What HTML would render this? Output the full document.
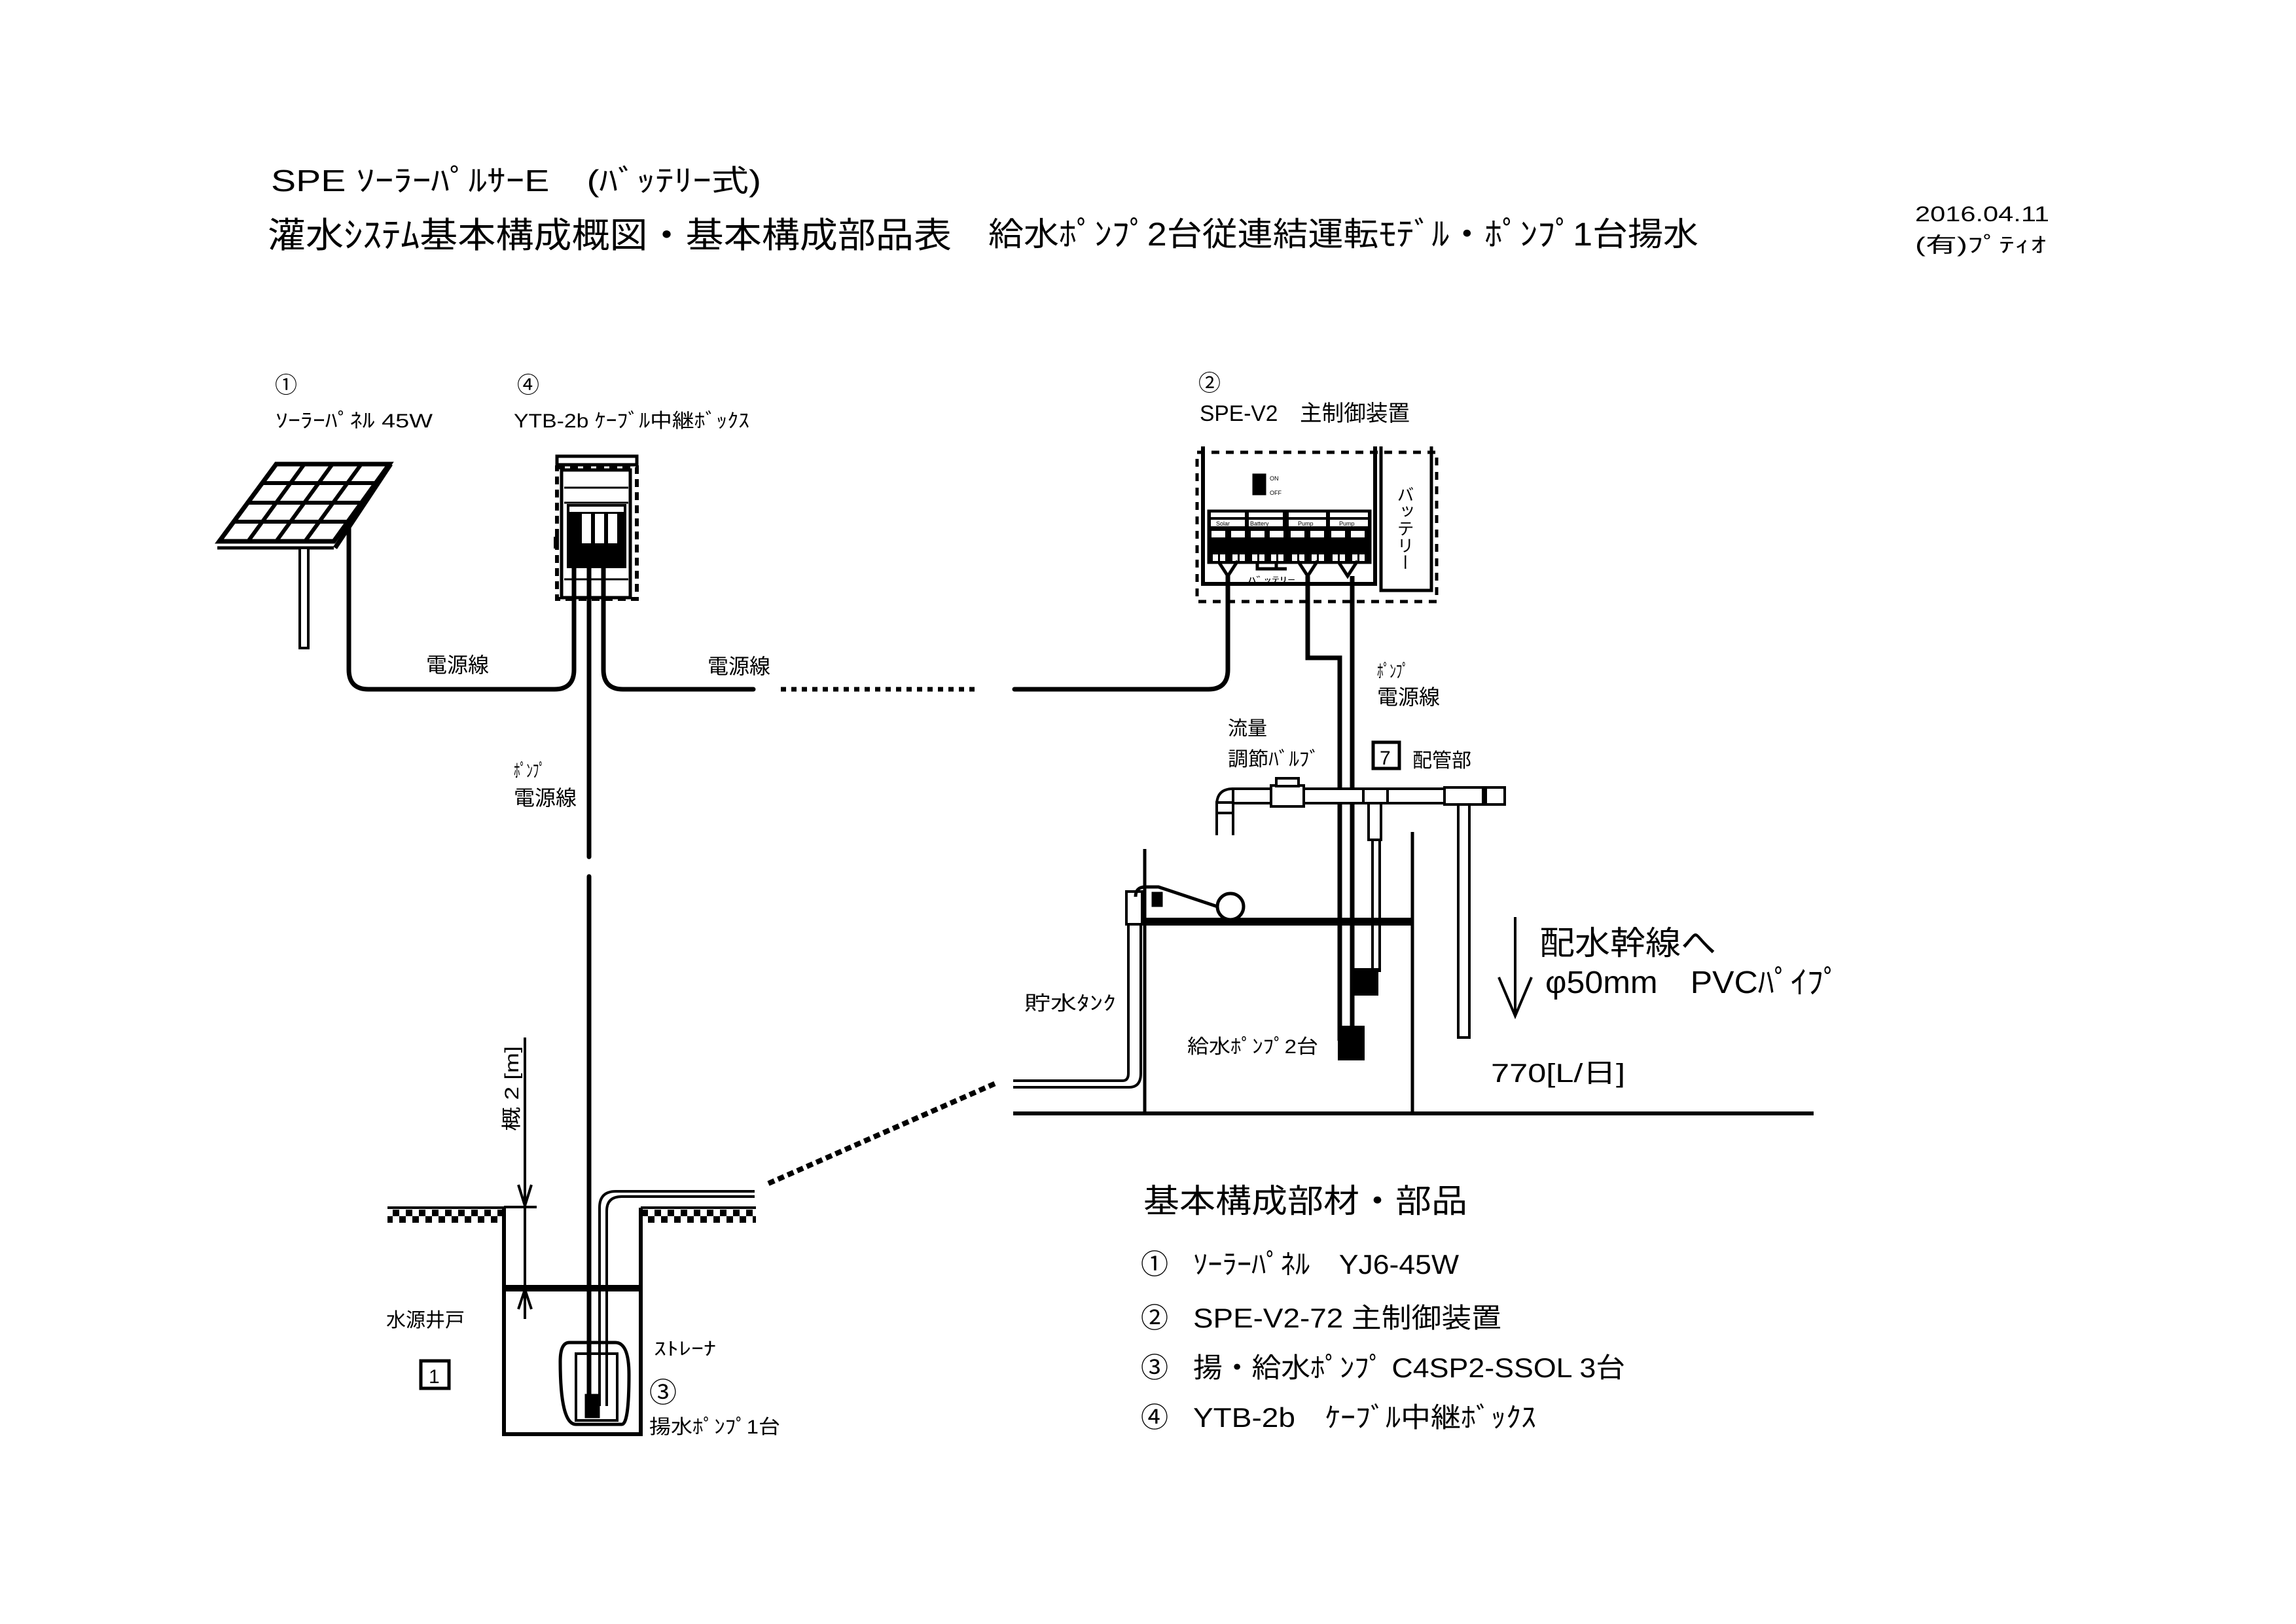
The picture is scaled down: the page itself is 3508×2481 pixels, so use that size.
<!DOCTYPE html>
<html><head><meta charset="utf-8"><style>
html,body{margin:0;padding:0;background:#fff}
svg{display:block}
text{font-family:"Liberation Sans","Noto Sans CJK JP",sans-serif;fill:#000}
</style></head><body>
<svg width="3508" height="2481" viewBox="0 0 3508 2481" xmlns="http://www.w3.org/2000/svg">
<rect width="3508" height="2481" fill="#fff"/>
<text x="414" y="292" font-size="46" textLength="749" lengthAdjust="spacingAndGlyphs">SPE ｿｰﾗｰﾊﾟﾙｻｰE　(ﾊﾞｯﾃﾘｰ式)</text>
<text x="409" y="378" font-size="54" textLength="1045" lengthAdjust="spacingAndGlyphs">灌水ｼｽﾃﾑ基本構成概図・基本構成部品表</text>
<text x="1510" y="375" font-size="50" textLength="1085" lengthAdjust="spacingAndGlyphs">給水ﾎﾟﾝﾌﾟ2台従連結運転ﾓﾃﾞﾙ・ﾎﾟﾝﾌﾟ1台揚水</text>
<text x="2926" y="338" font-size="32" textLength="205" lengthAdjust="spacingAndGlyphs">2016.04.11</text>
<text x="2926" y="385" font-size="32" textLength="200" lengthAdjust="spacingAndGlyphs">(有)ﾌﾟﾃｨｵ</text>

<text x="420" y="600" font-size="34">①</text>
<text x="421" y="653" font-size="30" textLength="240" lengthAdjust="spacingAndGlyphs">ｿｰﾗｰﾊﾟﾈﾙ 45W</text>
<text x="790" y="600" font-size="34">④</text>
<text x="785" y="653" font-size="30" textLength="360" lengthAdjust="spacingAndGlyphs">YTB-2b ｹｰﾌﾞﾙ中継ﾎﾞｯｸｽ</text>
<text x="1831" y="597" font-size="34">②</text>
<text x="1833" y="643" font-size="34" textLength="321" lengthAdjust="spacingAndGlyphs">SPE-V2　主制御装置</text>

<g stroke="#000" fill="none">
<polygon points="422,709 595,709 510,827 335,827" stroke-width="7" fill="#fff"/>
<line x1="400" y1="738" x2="574" y2="738" stroke-width="6"/>
<line x1="378" y1="768" x2="552" y2="768" stroke-width="6"/>
<line x1="357" y1="797" x2="531" y2="797" stroke-width="6"/>
<line x1="465" y1="709" x2="379" y2="827" stroke-width="6"/>
<line x1="508" y1="709" x2="422" y2="827" stroke-width="6"/>
<line x1="552" y1="709" x2="466" y2="827" stroke-width="6"/>
<line x1="332" y1="837" x2="510" y2="837" stroke-width="5"/>
<line x1="597" y1="709" x2="512" y2="837" stroke-width="7"/>
<rect x="458" y="837" width="13" height="153" stroke-width="4" fill="#fff"/>
</g>

<g stroke="#000" fill="none">
<rect x="851" y="697" width="122" height="13" stroke-width="5" fill="#fff"/>
<rect x="851" y="714" width="122" height="201" stroke-width="6" stroke-dasharray="12 8"/>
<rect x="858" y="718" width="105" height="195" stroke-width="5"/>
<line x1="862" y1="745" x2="960" y2="745" stroke-width="3"/>
<line x1="862" y1="768" x2="960" y2="768" stroke-width="3"/>
<rect x="866" y="770" width="91" height="80" fill="#000" stroke="none"/>
<rect x="870" y="774" width="83" height="8" fill="#fff" stroke="none"/>
<rect x="889" y="785" width="14" height="45" fill="#fff" stroke="none"/>
<rect x="909" y="785" width="14" height="45" fill="#fff" stroke="none"/>
<rect x="929" y="785" width="14" height="45" fill="#fff" stroke="none"/>
<rect x="866" y="842" width="91" height="26" fill="#000" stroke="none"/>
<rect x="846" y="820" width="8" height="18" fill="#000" stroke="none"/>
<line x1="862" y1="885" x2="960" y2="885" stroke-width="3"/>
</g>

<g stroke="#000" fill="none" stroke-width="7" stroke-linecap="round">
<path d="M533,801 V1023 Q533,1053 563,1053 H847 Q877,1053 877,1023 V866"/>
<path d="M922,866 V1023 Q922,1053 952,1053 H1151"/>
<line x1="1193" y1="1053" x2="1494" y2="1053" stroke-dasharray="8 8" stroke-linecap="butt"/>
<path d="M1550,1053 H1846 Q1876,1053 1876,1023 V880"/>
<path d="M900,866 V1309"/>
<path d="M900,1339 V2148"/>
</g>
<text x="651" y="1027" font-size="32">電源線</text>
<text x="1081" y="1029" font-size="32">電源線</text>
<text x="785" y="1187" font-size="28" textLength="48" lengthAdjust="spacingAndGlyphs">ﾎﾟﾝﾌﾟ</text>
<text x="785" y="1230" font-size="32">電源線</text>

<g stroke="#000" fill="none">
<rect x="1829" y="691" width="366" height="228" stroke-width="5" stroke-dasharray="12 10"/>
<path d="M1838,682 V892 H2101 V682" stroke-width="6"/>
<path d="M2110,682 V902 H2187 V682" stroke-width="5"/>
<rect x="1914" y="724" width="20" height="32" fill="#000"/>
<rect x="1845" y="779" width="250" height="82" fill="#000"/>
</g>
<text x="1940" y="734" font-size="9">ON</text>
<text x="1940" y="756" font-size="9">OFF</text>
<g fill="#fff">
<rect x="1850" y="783" width="52" height="7"/><rect x="1908" y="783" width="52" height="7"/><rect x="1969" y="783" width="57" height="7"/><rect x="2032" y="783" width="58" height="7"/>
<rect x="1850" y="794" width="52" height="10"/><rect x="1908" y="794" width="52" height="10"/><rect x="1969" y="794" width="57" height="10"/><rect x="2032" y="794" width="58" height="10"/>
<rect x="1851" y="811" width="21" height="10"/><rect x="1881" y="811" width="21" height="10"/><rect x="1911" y="811" width="21" height="10"/><rect x="1940" y="811" width="21" height="10"/><rect x="1972" y="811" width="21" height="10"/><rect x="2002" y="811" width="21" height="10"/><rect x="2034" y="811" width="21" height="10"/><rect x="2064" y="811" width="21" height="10"/>
<rect x="1853" y="847" width="8" height="10"/><rect x="1864" y="847" width="8" height="10"/><rect x="1883" y="847" width="8" height="10"/><rect x="1894" y="847" width="8" height="10"/><rect x="1913" y="847" width="8" height="10"/><rect x="1924" y="847" width="8" height="10"/><rect x="1942" y="847" width="8" height="10"/><rect x="1953" y="847" width="8" height="10"/><rect x="1974" y="847" width="8" height="10"/><rect x="1985" y="847" width="8" height="10"/><rect x="2004" y="847" width="8" height="10"/><rect x="2015" y="847" width="8" height="10"/><rect x="2036" y="847" width="8" height="10"/><rect x="2047" y="847" width="8" height="10"/><rect x="2066" y="847" width="8" height="10"/><rect x="2077" y="847" width="8" height="10"/>
</g>
<g font-size="9"><text x="1858" y="803">Solar</text><text x="1910" y="803">Battery</text><text x="1983" y="803">Pump</text><text x="2046" y="803">Pump</text></g>
<g stroke="#000" fill="none" stroke-width="5">
<path d="M1861,857 L1876,880 L1891,857"/><path d="M1983,857 L1998,880 L2013,857"/><path d="M2044,857 L2059,880 L2074,857"/>
<path d="M1921,857 V869 H1966 M1950,857 V869"/>
</g>
<text x="1907" y="890" font-size="12" textLength="72" lengthAdjust="spacingAndGlyphs">ﾊﾞｯﾃﾘｰ</text>
<text x="2146" y="742" font-size="26" writing-mode="tb" glyph-orientation-vertical="0">バッテリー</text>
<g stroke="#000" fill="none" stroke-width="7">
<path d="M1998,880 V1005 H2047 V1590"/>
<path d="M2066,880 V1590"/>
</g>
<text x="2104" y="1035" font-size="28" textLength="48" lengthAdjust="spacingAndGlyphs">ﾎﾟﾝﾌﾟ</text>
<text x="2104" y="1076" font-size="32">電源線</text>
<text x="1876" y="1123" font-size="30">流量</text>
<text x="1876" y="1170" font-size="30" textLength="140" lengthAdjust="spacingAndGlyphs">調節ﾊﾞﾙﾌﾞ</text>
<rect x="2098" y="1134" width="40" height="40" fill="none" stroke="#000" stroke-width="5"/>
<text x="2108" y="1168" font-size="30">7</text>
<text x="2158" y="1172" font-size="30">配管部</text>

<g stroke="#000" fill="#fff" stroke-width="4">
<path d="M1884,1205 H2299 V1227 H1884 Z"/>
<path d="M1859,1276 V1230 Q1859,1205 1884,1205 V1276"/>
<rect x="1859" y="1226" width="25" height="16"/>
<rect x="1942" y="1200" width="50" height="32"/>
<rect x="1950" y="1189" width="34" height="12"/>
<rect x="2083" y="1205" width="37" height="22"/>
<rect x="2091" y="1227" width="19" height="56"/>
<rect x="2207" y="1203" width="59" height="26"/>
<rect x="2228" y="1229" width="17" height="356"/>
<rect x="2270" y="1203" width="29" height="26"/>
<rect x="2097" y="1283" width="11" height="200"/>
<rect x="2067" y="1481" width="37" height="38" fill="#000"/>
<rect x="2046" y="1569" width="37" height="49" fill="#000"/>
</g>
<g stroke="#000" fill="none">
<line x1="1749" y1="1297" x2="1749" y2="1701" stroke-width="5"/>
<line x1="2158" y1="1271" x2="2158" y2="1701" stroke-width="5"/>
<line x1="1749" y1="1408" x2="2158" y2="1408" stroke-width="12"/>
<line x1="1548" y1="1701" x2="2771" y2="1701" stroke-width="6"/>
<path d="M1548,1651 H1715 Q1724,1651 1724,1640 V1370 M1548,1661 H1725 Q1743,1661 1743,1640 V1370" stroke-width="4"/>
<rect x="1721" y="1362" width="24" height="50" stroke-width="4" fill="#fff"/>
<path d="M1735,1370 Q1735,1355 1750,1355 H1770 L1860,1385" stroke-width="5"/>
<rect x="1760" y="1363" width="16" height="22" fill="#000"/>
<circle cx="1880" cy="1385" r="20" stroke-width="5" fill="#fff"/>
<line x1="2315" y1="1401" x2="2315" y2="1552" stroke-width="4"/>
<path d="M2290,1493 L2315,1552 L2340,1493" stroke-width="4"/>
</g>
<text x="1565" y="1543" font-size="30" textLength="140" lengthAdjust="spacingAndGlyphs">貯水ﾀﾝｸ</text>
<text x="1814" y="1609" font-size="30" textLength="200" lengthAdjust="spacingAndGlyphs">給水ﾎﾟﾝﾌﾟ2台</text>
<text x="2352" y="1458" font-size="50" textLength="270" lengthAdjust="spacingAndGlyphs">配水幹線へ</text>
<text x="2361" y="1517" font-size="48" textLength="450" lengthAdjust="spacingAndGlyphs">φ50mm　PVCﾊﾟｲﾌﾟ</text>
<text x="2278" y="1653" font-size="40" textLength="205" lengthAdjust="spacingAndGlyphs">770[L/日]</text>

<line x1="1174" y1="1808" x2="1521" y2="1655" stroke="#000" stroke-width="8" stroke-dasharray="10 6"/>

<defs><pattern id="h" width="20" height="24" patternUnits="userSpaceOnUse"><rect width="20" height="24" fill="#fff"/><rect width="10" height="10" fill="#000"/><rect x="10" y="10" width="10" height="10" fill="#000"/></pattern></defs>
<rect x="592" y="1846" width="175" height="22" fill="url(#h)"/>
<rect x="981" y="1846" width="174" height="22" fill="url(#h)"/>
<g stroke="#000" fill="none">
<line x1="592" y1="1845" x2="770" y2="1845" stroke-width="4"/>
<line x1="979" y1="1845" x2="1155" y2="1845" stroke-width="4"/>
<path d="M770,1845 V2191 H979 V1845" stroke-width="6"/>
<line x1="770" y1="1968" x2="979" y2="1968" stroke-width="10"/>
<line x1="770" y1="1844" x2="820" y2="1844" stroke-width="4"/>
<line x1="802" y1="1585" x2="802" y2="2015" stroke-width="4"/>
<path d="M792,1810 L802,1842 L812,1810 M792,2000 L802,1970 L812,2000" stroke-width="4"/>
<path d="M916,2148 V1845 Q916,1820 941,1820 H1153 M927,2148 V1850 Q927,1828 950,1828 H1153" stroke-width="4"/>
<path d="M870,2051 Q856,2051 856,2080 Q856,2176 880,2176 H950 Q961,2176 961,2100 Q961,2051 940,2051 Z" stroke-width="5"/>
<rect x="880" y="2068" width="63" height="102" stroke-width="4"/>
<rect x="894" y="2130" width="22" height="36" fill="#000"/>
<rect x="643" y="2079" width="43" height="42" stroke-width="5"/>
</g>
<text x="655" y="2113" font-size="30">1</text>
<text x="0" y="0" font-size="30" transform="translate(792,1728) rotate(-90)" textLength="130" lengthAdjust="spacingAndGlyphs">概 2 [m]</text>
<text x="590" y="2027" font-size="30">水源井戸</text>
<text x="999" y="2070" font-size="28" textLength="95" lengthAdjust="spacingAndGlyphs">ｽﾄﾚｰﾅ</text>
<text x="992" y="2142" font-size="42">③</text>
<text x="992" y="2190" font-size="30" textLength="200" lengthAdjust="spacingAndGlyphs">揚水ﾎﾟﾝﾌﾟ1台</text>

<text x="1747" y="1852" font-size="50" textLength="495" lengthAdjust="spacingAndGlyphs">基本構成部材・部品</text>
<g font-size="42">
<text x="1743" y="1946">①</text><text x="1823" y="1946" textLength="406" lengthAdjust="spacingAndGlyphs">ｿｰﾗｰﾊﾟﾈﾙ　YJ6-45W</text>
<text x="1743" y="2028">②</text><text x="1823" y="2028" textLength="471" lengthAdjust="spacingAndGlyphs">SPE-V2-72 主制御装置</text>
<text x="1743" y="2104">③</text><text x="1823" y="2104" textLength="660" lengthAdjust="spacingAndGlyphs">揚・給水ﾎﾟﾝﾌﾟ C4SP2-SSOL 3台</text>
<text x="1743" y="2180">④</text><text x="1823" y="2180" textLength="524" lengthAdjust="spacingAndGlyphs">YTB-2b　ｹｰﾌﾞﾙ中継ﾎﾞｯｸｽ</text>
</g>
</svg>
</body></html>
